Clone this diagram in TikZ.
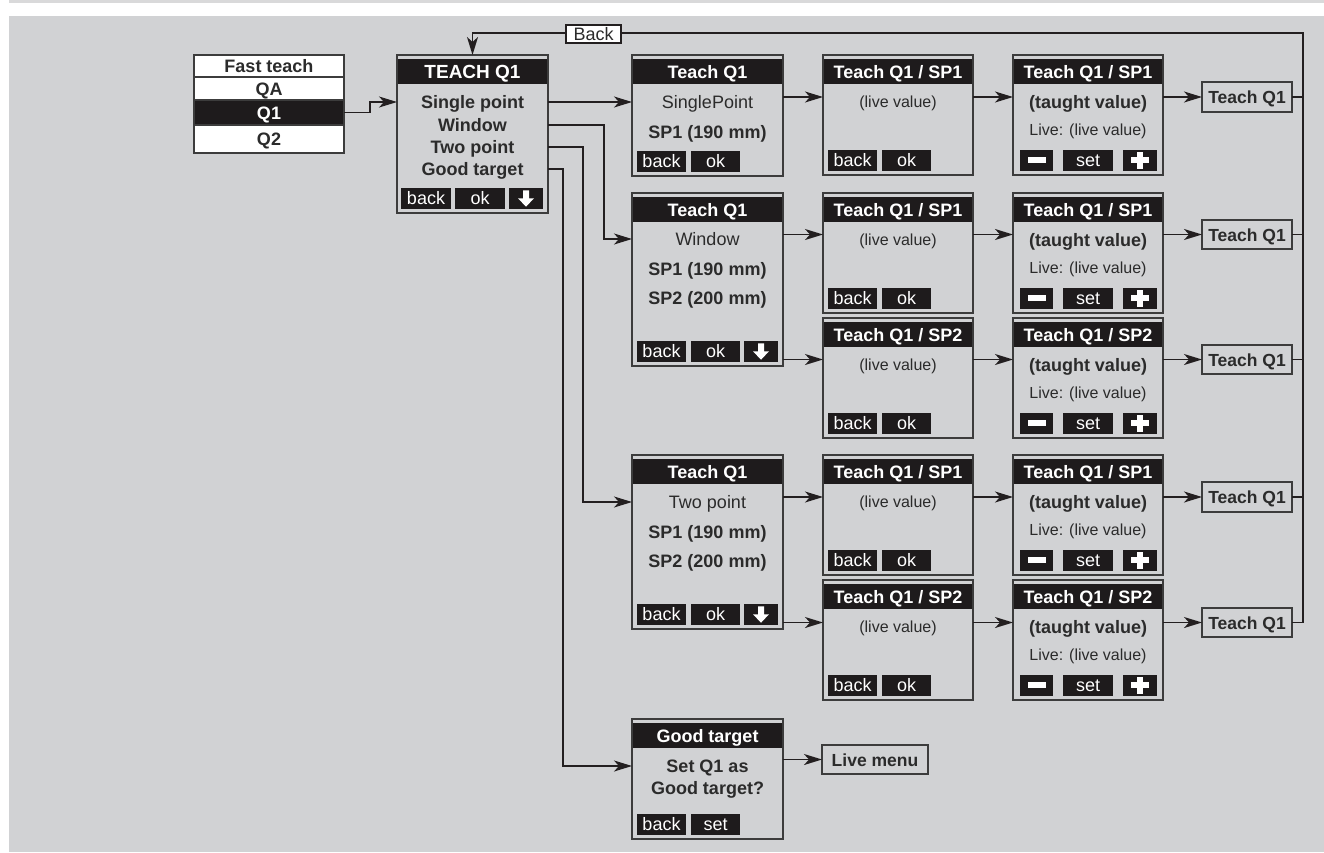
\documentclass[tikz,border=0pt]{standalone}
\usepackage{fontspec}
\setmainfont{Liberation Sans}
\usetikzlibrary{arrows.meta,calc}
\definecolor{bgc}{HTML}{D1D2D4}
\definecolor{topc}{HTML}{D9D9DA}
\definecolor{linec}{HTML}{231F20}
\definecolor{boxc}{HTML}{3C3C3C}
\definecolor{hdrc}{HTML}{1E1B1C}
\definecolor{txtc}{HTML}{2B2B2B}
\tikzset{
  ln/.style={draw=linec, line width=1.8pt},
  arr/.style={ln, -{Stealth[length=18pt,width=11pt,inset=5pt]}},
  scrbox/.style={draw=boxc, line width=1.4pt, fill=bgc, inner sep=0pt, outer sep=0pt, anchor=north west},
  hdrtxt/.style={text=white, font=\bfseries\fontsize{18}{20}\selectfont, inner sep=0pt, text height=13pt, text depth=0pt},
  tb/.style={text=txtc, font=\bfseries\fontsize{18}{20}\selectfont, inner sep=0pt, text height=13pt, text depth=0pt},
  tr/.style={text=txtc, font=\fontsize{18}{20}\selectfont, inner sep=0pt, text height=13pt, text depth=0pt},
  ts/.style={text=txtc, font=\fontsize{16}{18}\selectfont, inner sep=0pt, text height=11.5pt, text depth=0pt},
  btn/.style={fill=hdrc, inner sep=0pt, outer sep=0pt, minimum height=20.5pt, text=white, font=\fontsize{18}{20}\selectfont, text height=13pt, text depth=0pt, anchor=north west},
  smallbox/.style={draw=boxc, line width=1.4pt, fill=bgc, inner sep=0pt, outer sep=0pt, text=txtc, font=\bfseries\fontsize{17.5}{20}\selectfont, text height=13pt, text depth=0pt, anchor=north west},
  ftrow/.style={draw=boxc, line width=1.2pt, fill=white, inner sep=0pt, outer sep=0pt, minimum width=150pt, anchor=north west, text=txtc, font=\bfseries\fontsize{18}{20}\selectfont, text height=13pt, text depth=0pt},
  backlbl/.style={draw=linec, line width=1.2pt, fill=white, inner sep=0pt, minimum width=55pt, minimum height=18pt, text=txtc, font=\fontsize{18}{20}\selectfont, text height=12.5pt, text depth=0pt}
}
% screen: name, x, y, w, h, title
\newcommand\scrn[6]{%
  \node[scrbox, minimum width=#4pt, minimum height=#5pt] (#1) at (#2,#3) {};
  \fill[hdrc] ($(#1.north west)+(0.7,4)$) rectangle ($(#1.north east)+(-0.7,29)$);
  \node[hdrtxt] (#1-t) at ($(#1.north)+(0,16.5)$) {#6};
}
% button: screen, id, offset, width, text
\newcommand\btn[5]{%
  \node[btn, minimum width=#4pt] (#1-#2) at ($(#1.south west)+(#3,-25)$) {#5};
}
\newcommand\okback[1]{\btn{#1}{b1}{5}{49}{back}\btn{#1}{b2}{59}{49}{ok}}
\newcommand\downbtn[1]{%
  \btn{#1}{b3}{112}{34}{}
  \fill[white] ($(#1-b3.center)+(-3,-8)$) -- ($(#1-b3.center)+(3,-8)$) -- ($(#1-b3.center)+(3,0)$) -- ($(#1-b3.center)+(8,0)$) -- ($(#1-b3.center)+(0,8.5)$) -- ($(#1-b3.center)+(-8,0)$) -- ($(#1-b3.center)+(-3,0)$) -- cycle;
}
\newcommand\setbtns[1]{%
  \btn{#1}{b1}{7}{33}{}\btn{#1}{b2}{50}{50}{set}\btn{#1}{b3}{110}{34}{}
  \fill[white] ($(#1-b1.center)+(-9,-2.8)$) rectangle ($(#1-b1.center)+(9,2.8)$);
  \fill[white] ($(#1-b3.center)+(-9,-2.8)$) rectangle ($(#1-b3.center)+(9,2.8)$);
  \fill[white] ($(#1-b3.center)+(-2.8,-8.5)$) rectangle ($(#1-b3.center)+(2.8,8.5)$);
}
% live-value screen: name, x, y, title
\newcommand\livescr[4]{%
  \scrn{#1}{#2}{#3}{150}{120}{#4}
  \node[ts] (#1-l1) at ($(#1.north)+(0,47)$) {(live value)};
  \okback{#1}
}
% taught-value screen: name, x, y, title
\newcommand\taughtscr[4]{%
  \scrn{#1}{#2}{#3}{150}{120}{#4}
  \node[tb] (#1-l1) at ($(#1.north)+(0,47)$) {(taught value)};
  \node[ts] (#1-l2) at ($(#1.north)+(0,75)$) {Live: (live value)};
  \setbtns{#1}
}
\begin{document}
\begin{tikzpicture}[x=1pt,y=-1pt]
\useasboundingbox (0,0) rectangle (1324,852);
\fill[white] (0,0) rectangle (1324,852);
\fill[topc] (9,0) rectangle (1324,3);
\fill[bgc] (9,16) rectangle (1324,852);

% Fast teach list
\node[ftrow, minimum height=22pt] (ft0) at (194,55) {Fast teach};
\node[ftrow, minimum height=23pt] (ft1) at (194,77) {QA};
\node[ftrow, minimum height=25pt, fill=hdrc, text=white] (ft2) at (194,100) {Q1};
\node[ftrow, minimum height=28pt] (ft3) at (194,125) {Q2};

% TEACH Q1 menu
\scrn{tq}{397}{55}{151}{158}{\fontsize{19}{20}\selectfont TEACH Q1}
\node[tb] (tq-l1) at ($(tq.north)+(0,47)$) {Single point};
\node[tb] (tq-l2) at ($(tq.north)+(0,70)$) {Window};
\node[tb] (tq-l3) at ($(tq.north)+(0,92)$) {Two point};
\node[tb] (tq-l4) at ($(tq.north)+(0,114)$) {Good target};
\btn{tq}{b1}{4}{50}{back}\btn{tq}{b2}{58}{50}{ok}
\downbtn{tq}

% Row A: single point
\scrn{sA1}{632}{55}{151}{121}{Teach Q1}
\node[tr] (sA1-l1) at ($(sA1.north)+(0,47)$) {SinglePoint};
\node[tb] (sA1-l2) at ($(sA1.north)+(0,77)$) {SP1 (190 mm)};
\okback{sA1}
\livescr{sA2}{823}{55}{Teach Q1 / SP1}
\taughtscr{sA3}{1013}{55}{Teach Q1 / SP1}
\node[smallbox, minimum width=90pt, minimum height=30pt] (tA) at (1202,82) {Teach Q1};

% Row B: window
\scrn{sB1}{632}{193}{151}{173}{Teach Q1}
\node[tr] (sB1-l1) at ($(sB1.north)+(0,46)$) {Window};
\node[tb] (sB1-l2) at ($(sB1.north)+(0,76)$) {SP1 (190 mm)};
\node[tb] (sB1-l3) at ($(sB1.north)+(0,105)$) {SP2 (200 mm)};
\okback{sB1}\downbtn{sB1}
\livescr{sB2a}{823}{193}{Teach Q1 / SP1}
\livescr{sB2b}{823}{318}{Teach Q1 / SP2}
\taughtscr{sB3a}{1013}{193}{Teach Q1 / SP1}
\taughtscr{sB3b}{1013}{318}{Teach Q1 / SP2}
\node[smallbox, minimum width=90pt, minimum height=29pt] (tB1) at (1202,220) {Teach Q1};
\node[smallbox, minimum width=90pt, minimum height=29pt] (tB2) at (1202,345) {Teach Q1};

% Row C: two point
\scrn{sC1}{632}{455}{151}{174}{Teach Q1}
\node[tr] (sC1-l1) at ($(sC1.north)+(0,47)$) {Two point};
\node[tb] (sC1-l2) at ($(sC1.north)+(0,77)$) {SP1 (190 mm)};
\node[tb] (sC1-l3) at ($(sC1.north)+(0,106)$) {SP2 (200 mm)};
\okback{sC1}\downbtn{sC1}
\livescr{sC2a}{823}{455}{Teach Q1 / SP1}
\livescr{sC2b}{823}{580}{Teach Q1 / SP2}
\taughtscr{sC3a}{1013}{455}{Teach Q1 / SP1}
\taughtscr{sC3b}{1013}{580}{Teach Q1 / SP2}
\node[smallbox, minimum width=90pt, minimum height=30pt] (tC1) at (1202,482) {Teach Q1};
\node[smallbox, minimum width=90pt, minimum height=29pt] (tC2) at (1202,608) {Teach Q1};

% Good target
\scrn{sG}{632}{719}{151}{120}{Good target}
\node[tb] (sG-l1) at ($(sG.north)+(0,47)$) {Set Q1 as};
\node[tb] (sG-l2) at ($(sG.north)+(0,69)$) {Good target?};
\btn{sG}{b1}{5}{49}{back}\btn{sG}{b2}{59}{49}{set}
\node[smallbox, minimum width=106pt, minimum height=29pt] (live) at (822,745) {Live menu};

% connectors from lists
\draw[arr] (ft2.east) -- ++(26,0) |- (tq.west |- tq-l1);
\draw[arr] (tq.east |- tq-l1) -- (sA1.west |- tq-l1);
\draw[arr] (tq.east |- tq-l2) -- ++(56,0) |- (sB1.west |- sB1-l1);
\draw[arr] (tq.east |- tq-l3) -- ++(35,0) |- (sC1.west |- sC1-l1);
\draw[arr] (tq.east |- tq-l4) -- ++(15,0) |- (sG.west |- sG-l1);

% row A
\draw[arr] (sA1.east |- tA) -- (sA2.west |- tA);
\draw[arr] (sA2.east |- tA) -- (sA3.west |- tA);
\draw[arr] (sA3.east |- tA) -- (tA.west);
% row B
\draw[arr] (sB1.east |- tB1) -- (sB2a.west |- tB1);
\draw[arr] (sB1.east |- tB2) -- (sB2b.west |- tB2);
\draw[arr] (sB2a.east |- tB1) -- (sB3a.west |- tB1);
\draw[arr] (sB2b.east |- tB2) -- (sB3b.west |- tB2);
\draw[arr] (sB3a.east |- tB1) -- (tB1.west);
\draw[arr] (sB3b.east |- tB2) -- (tB2.west);
% row C
\draw[arr] (sC1.east |- tC1) -- (sC2a.west |- tC1);
\draw[arr] (sC1.east |- tC2) -- (sC2b.west |- tC2);
\draw[arr] (sC2a.east |- tC1) -- (sC3a.west |- tC1);
\draw[arr] (sC2b.east |- tC2) -- (sC3b.west |- tC2);
\draw[arr] (sC3a.east |- tC1) -- (tC1.west);
\draw[arr] (sC3b.east |- tC2) -- (tC2.west);
% good target
\draw[arr] (sG.east |- live) -- (live.west);

% back rail
\coordinate (rt) at (1303,33);
\draw[arr] (tC2.east) -| (rt) -| (tq.north);
\draw[ln] (tA.east) -- (tA.east -| rt);
\draw[ln] (tB1.east) -- (tB1.east -| rt);
\draw[ln] (tB2.east) -- (tB2.east -| rt);
\draw[ln] (tC1.east) -- (tC1.east -| rt);
\node[backlbl] (back) at (593.5,34) {Back};
\end{tikzpicture}
\end{document}
